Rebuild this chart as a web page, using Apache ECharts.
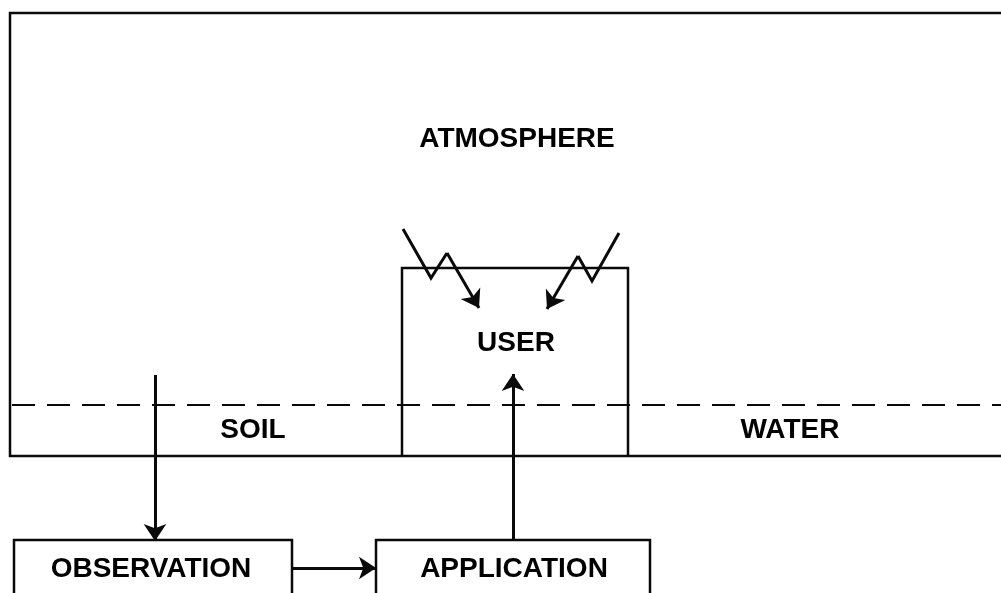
<!DOCTYPE html>
<html>
<head>
<meta charset="utf-8">
<script src="https://cdn.jsdelivr.net/npm/echarts@6/dist/echarts.min.js"></script>
<style>
html,body{margin:0;padding:0;background:#fff;}
#c{width:1001px;height:593px;}
</style>
</head>
<body>
<div id="c"></div>
<script>
// Diagram geometry in a 1001 x 593 coordinate space (y grows downward)
const frame = [[1001, 13], [10, 13], [10, 456], [1001, 456]];
const surfaceDash = [[12, 405], [1001, 405]];
const userBox = [[402, 456], [402, 268], [628, 268], [628, 456]];
const observationBox = [[14, 600], [14, 540], [292, 540], [292, 600]];
const applicationBox = [[376, 600], [376, 540], [650, 540], [650, 600]];
const zigzagLeft = [[403, 229], [431, 278], [447, 253]];
const zigzagRight = [[619, 233], [592, 281], [578, 256]];
// arrows: [from, tip]
const arrows = [
  [[155, 375], [155, 541]],
  [[513, 540], [513, 374]],
  [[292, 568], [376, 568]],
  [[447, 253], [479, 308]],
  [[578, 256], [547, 309]]
];
const labelNames = ['ATMOSPHERE', 'USER', 'SOIL', 'WATER', 'OBSERVATION', 'APPLICATION'];
const labelPos = [[517, 139], [516, 343], [253, 430], [790, 430], [151, 569], [514, 569]];

const INK = '#0a0a0a';
const ARROW = 17;

const chart = echarts.init(document.getElementById('c'), null, {renderer: 'canvas'});
chart.setOption({
  backgroundColor: '#fff',
  animation: false,
  grid: {left: 0, right: 0, top: 0, bottom: 0},
  xAxis: {type: 'value', min: 0, max: 1001, show: false},
  yAxis: {type: 'value', min: 0, max: 593, inverse: true, show: false},
  series: [
    {
      type: 'lines', coordinateSystem: 'cartesian2d', polyline: true, silent: true,
      symbol: 'none',
      lineStyle: {color: INK, width: 2.5, opacity: 1},
      data: [frame, userBox, observationBox, applicationBox].map(c => ({coords: c}))
    },
    {
      type: 'lines', coordinateSystem: 'cartesian2d', polyline: true, silent: true,
      symbol: 'none',
      lineStyle: {color: INK, width: 3, opacity: 1},
      data: [zigzagLeft, zigzagRight].map(c => ({coords: c}))
    },
    {
      type: 'lines', coordinateSystem: 'cartesian2d', polyline: true, silent: true,
      symbol: 'none',
      lineStyle: {color: INK, width: 2, opacity: 1, type: [23, 12]},
      data: [{coords: surfaceDash}]
    },
    {
      type: 'lines', coordinateSystem: 'cartesian2d', silent: true,
      symbol: ['none', 'arrow'], symbolSize: ARROW,
      lineStyle: {color: INK, width: 3, opacity: 1},
      data: arrows.map(s => ({coords: s}))
    },
    {
      type: 'custom', silent: true,
      data: labelNames.map((n, i) => ({name: n, value: labelPos[i]})),
      renderItem: function (params, api) {
        const p = api.coord([api.value(0), api.value(1)]);
        return {
          type: 'text', x: p[0], y: p[1],
          style: {
            text: labelNames[params.dataIndex],
            fill: '#000',
            font: 'bold 28px "Liberation Sans"',
            align: 'center', verticalAlign: 'middle'
          }
        };
      }
    }
  ]
});
</script>
</body>
</html>
